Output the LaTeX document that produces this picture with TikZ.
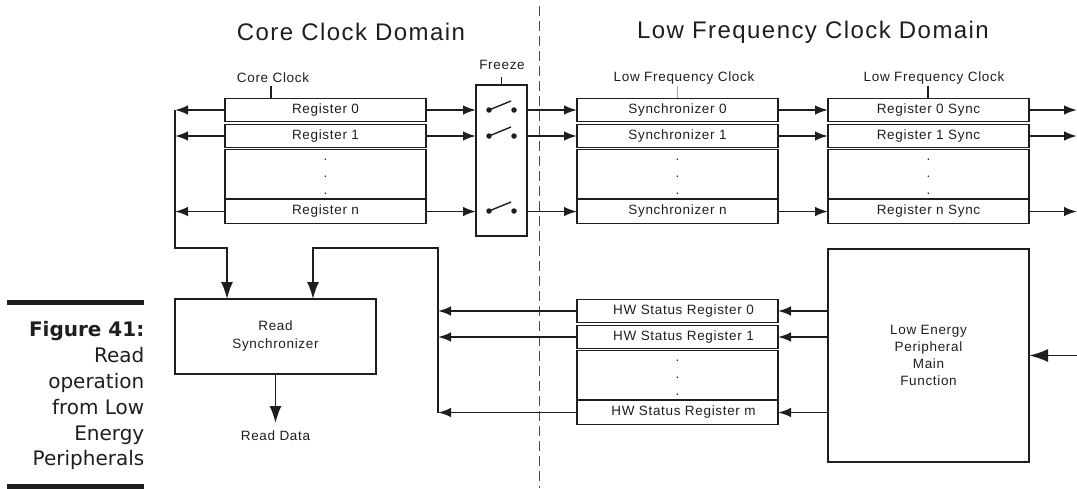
\documentclass[tikz,border=0pt]{standalone}
\usepackage{fontspec}
\setmainfont{Liberation Sans}
\newfontfamily\diagfont[LetterSpace=5]{Liberation Sans}
\newfontfamily\titlefont[LetterSpace=6]{Liberation Sans}
\newfontfamily\capfont{DejaVu Sans}
\usetikzlibrary{arrows.meta,calc}
\definecolor{ink}{HTML}{1E1E1E}
\begin{document}
\begin{tikzpicture}[x=1pt,y=-1pt,
  every node/.style={text=ink},
  lbl/.style={font=\diagfont\fontsize{13.5}{17}\selectfont, inner sep=0pt},
  ttl/.style={font=\titlefont\fontsize{24}{28}\selectfont, inner sep=0pt},
  box/.style={draw=ink, line width=1.35pt, inner sep=0pt, outer sep=0pt},
  row/.style={box, minimum width=201pt, minimum height=23.5pt, font=\diagfont\fontsize{13.5}{17}\selectfont},
  gap/.style={box, minimum width=201pt, minimum height=48.5pt},
  dotl/.style={font=\diagfont\fontsize{13.5}{17}\selectfont, inner sep=0pt, anchor=base},
  arr/.style={draw=ink, line width=1.8pt, -{Latex[length=13pt,width=9.5pt]}},
  bigarr/.style={draw=ink, line width=1.8pt, -{Latex[length=17pt,width=12pt]}},
  inarr/.style={draw=ink, line width=1.8pt, -{Latex[length=19pt,width=13pt]}},
  tick/.style={draw=ink, line width=1.5pt},
  sw/.style={circle, fill=ink, inner sep=0pt, minimum size=5.5pt},
  lever/.style={draw=ink, line width=1.4pt},
  divider/.style={draw=ink!80, line width=1pt, dash pattern=on 10pt off 5pt},
  capt/.style={font=\capfont\fontsize{20}{25.8}\selectfont, inner sep=0pt, align=right, anchor=north east}
]
\useasboundingbox (0,0) rectangle (1077,488);

% titles and domain divider
\node[ttl] (t1) at (351,32) {Core Clock Domain};
\node[ttl] (t2) at (813,32) {Low Frequency Clock Domain};
\coordinate (dtop) at (539,6);
\coordinate (dbot) at (539,488);
\draw[divider] (dtop) -- (dbot);

% core registers
\node[row] (c0) at (325.5,110) {Register 0};
\node[row] (c1) at (325.5,136) {Register 1};
\node[gap] (cd) at (325.5,174) {};
\node[row] (cn) at (325.5,211.5) {Register n};
% synchronizers
\node[row] (s0) at (677.5,110) {Synchronizer 0};
\node[row] (s1) at (677.5,136) {Synchronizer 1};
\node[gap] (sd) at (677.5,174) {};
\node[row] (sn) at (677.5,211.5) {Synchronizer n};
% register syncs
\node[row] (r0) at (928.5,110) {Register 0 Sync};
\node[row] (r1) at (928.5,136) {Register 1 Sync};
\node[gap] (rd) at (928.5,174) {};
\node[row] (rn) at (928.5,211.5) {Register n Sync};
% dots
\foreach \n/\x in {c/325.5, s/677.5, r/928.5}{
  \node[dotl] (\n dota) at (\x,160) {.};
  \node[dotl] (\n dotb) at (\x,177) {.};
  \node[dotl] (\n dotc) at (\x,194) {.};
}

% clock labels
\node[lbl] (ccl) at (273,78) {Core Clock};
\draw[tick] (c0.north -| 271,0) -- (271,86);
\node[lbl] (lfl1) at (684,78) {Low Frequency Clock};
\draw[tick, draw=gray!70, line width=1pt] (s0.north -| 677,0) -- (677,86);
\node[lbl] (lfl2) at (934,78) {Low Frequency Clock};
\draw[tick] (r0.north -| 928,0) -- (928,86);

% freeze
\node[box, minimum width=51pt, minimum height=151pt] (fz) at (501.5,160.5) {};
\node[lbl] (fzl) at (502,65) {Freeze};
\coordinate (fzt) at (501.5,77);
\draw[tick] (fz.north) -- (fzt);
\foreach \k/\y in {0/110, 1/136, n/211}{
  \node[sw] (swa\k) at (489,\y) {};
  \node[sw] (swb\k) at (514,\y) {};
  \coordinate (swe\k) at (511,\y-9);
  \draw[lever] (swa\k.center) -- (swe\k);
}

% register chain arrows
\foreach \k in {0,1,n}{
  \draw[arr] (c\k.east) -- (fz.west |- c\k);
  \draw[arr] (fz.east |- c\k) -- (s\k.west);
  \draw[arr] (s\k.east) -- (r\k.west);
  \coordinate (ro\k) at (1077,0 |- r\k);
  \draw[arr] (r\k.east) -- (ro\k -| 1077,0);
  \coordinate (lo\k) at (175,0 |- c\k);
  \draw[arr] (c\k.west) -- (lo\k -| 175,0);
}

% read synchronizer
\node[box, minimum width=201pt, minimum height=75pt, align=center,
      font=\diagfont\fontsize{13.5}{18}\selectfont] (rs) at (275.5,336.5) {Read\\Synchronizer};
\coordinate (j1) at (227,248);
\coordinate (j2) at (313,248);
\draw[bigarr] (175,110) |- (j1) -- (j1 |- rs.north);
\coordinate (rdo) at (275.5,423);
\draw[bigarr] (rs.south) -- (rdo);
\node[lbl] (rdl) at (275.5,436) {Read Data};

% HW status registers
\node[row] (h0) at (677.5,311) {\hspace*{12pt}HW Status Register 0};
\node[row] (h1) at (677.5,337) {\hspace*{12pt}HW Status Register 1};
\node[gap] (hd) at (677.5,375) {};
\node[row] (hm) at (677.5,412.5) {\hspace*{12pt}HW Status Register m};
\node[dotl] (hdota) at (677.5,361) {.};
\node[dotl] (hdotb) at (677.5,378) {.};
\node[dotl] (hdotc) at (677.5,395) {.};

% low energy peripheral
\node[box, minimum width=201pt, minimum height=213pt, align=center,
      font=\diagfont\fontsize{13.5}{17}\selectfont] (le) at (928.5,355.5)
      {Low Energy\\Peripheral\\Main\\Function};
\coordinate (lin) at (1077,355.5);
\draw[inarr] (lin) -- (le.east);
\foreach \k in {0,1,m}{
  \draw[arr] (le.west |- h\k) -- (h\k.east);
  \coordinate (hl\k) at (438,0 |- h\k);
  \draw[arr] (h\k.west) -- (hl\k -| 438,0);
}
\draw[bigarr] (hlm -| 438,0) |- (j2) -- (j2 |- rs.north);

% figure caption
\fill[ink] (7,299.5) rectangle (144,304.5);
\fill[ink] (7,483.5) rectangle (144,488.5);
\node[capt] (cap) at (144.5,321.5) {\textbf{Figure 41:}\\Read\\operation\\from Low\\Energy\\Peripherals};
\end{tikzpicture}
\end{document}
